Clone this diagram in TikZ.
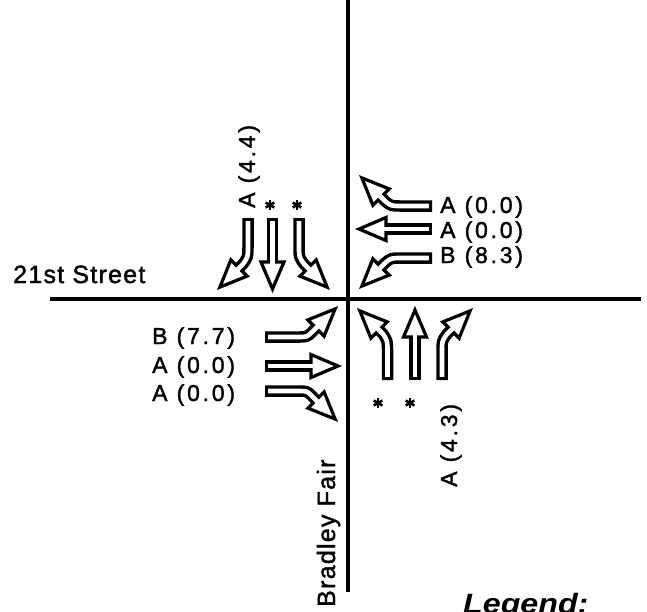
\documentclass[tikz,border=0pt]{standalone}
\usepackage{fontspec}
\setmainfont{Liberation Sans}
\newfontfamily\labfont{Liberation Sans}[LetterSpace=12,FakeBold=1.6]
\newfontfamily\streetfont{Liberation Sans}[LetterSpace=5,FakeBold=1.6]
\newfontfamily\legfont{Liberation Sans}
\usetikzlibrary{calc}
\tikzset{
  road/.style={line width=4pt},
  lab/.style={font=\labfont\fontsize{23}{23}\selectfont, inner sep=0pt},
  street/.style={font=\streetfont\fontsize{25}{25}\selectfont, inner sep=0pt},
  shaftout/.style={line width=11.5pt, line cap=butt},
  shaftin/.style={white, line width=4.6pt, line cap=butt, shorten <=3.2pt, shorten >=-4pt},
  headtri/.style={fill=white, draw=black, line width=3.2pt, line join=miter},
}
\newcommand\harrow[3]{%
  \draw[shaftout] #1;
  \filldraw[headtri] ($(#2)+(#3:27)$) -- ($(#2)+(#3+90:11.5)$) -- ($(#2)+(#3-90:11.5)$) -- cycle;
  \draw[shaftin] #1;
}
\newcommand\astr[1]{%
  \foreach \a in {90,30,150} \draw[line width=2.6pt] ($(#1)+(\a:5)$) -- ($(#1)-(\a:5)$);
}
\begin{document}
\begin{tikzpicture}[x=1pt,y=-1pt]
\useasboundingbox (0,0) rectangle (647,611);
\clip (0,0) rectangle (647,611);
% roads
\coordinate (vtop) at (348,0);
\coordinate (vbot) at (348,592);
\coordinate (hleft) at (50,299);
\coordinate (hright) at (641,299);
\draw[road] (vtop) -- (vbot);
\draw[road] (hleft) -- (hright);
% street names
\node[street, anchor=base west] (st21) at (13,283) {21st Street};
\node[street, anchor=base west, rotate=90] (brad) at (335,607) {Bradley Fair};
% southbound
\harrow{(248,218) -- (248,246) .. controls (248,257) .. (243,264) -- (239,268)}{239,268}{135}
\harrow{(272.5,218) -- (272.5,262)}{272.5,262}{90}
\harrow{(299,218) -- (299,246) .. controls (299,257) .. (304,264) -- (308,268)}{308,268}{45}
\astr{270,205}
\astr{297,205}
\node[lab, anchor=base west, rotate=90] (sbl) at (255,208) {A (4.4)};
% westbound
\harrow{(432,206) -- (402,206) .. controls (391,206) .. (385,201) -- (381,197)}{381,197}{225}
\harrow{(432,229) -- (386,229)}{386,229}{180}
\harrow{(432,258) -- (402,258) .. controls (391,258) .. (385,263) -- (381,267)}{381,267}{135}
\node[lab, anchor=base west] (wb1) at (440,213) {A (0.0)};
\node[lab, anchor=base west] (wb2) at (440,238) {A (0.0)};
\node[lab, anchor=base west] (wb3) at (440,263) {B (8.3)};
% eastbound
\harrow{(265,337) -- (297,337) .. controls (307,337) .. (312,332) -- (316,328)}{316,328}{315}
\harrow{(265,366) -- (311,366)}{311,366}{0}
\harrow{(265,391) -- (297,391) .. controls (307,391) .. (312,396) -- (316,400)}{316,400}{45}
\node[lab, anchor=base west] (eb1) at (152,344) {B (7.7)};
\node[lab, anchor=base west] (eb2) at (152,373) {A (0.0)};
\node[lab, anchor=base west] (eb3) at (152,401) {A (0.0)};
% northbound
\harrow{(387.5,380) -- (387.5,352) .. controls (387.5,341) .. (383,334) -- (379,330)}{379,330}{225}
\harrow{(415,380) -- (415,337)}{415,337}{270}
\harrow{(442,380) -- (442,352) .. controls (442,341) .. (447,334) -- (451,330)}{451,330}{315}
\astr{378,403}
\astr{410,403}
\node[lab, anchor=base west, rotate=90] (nbl) at (457,487) {A (4.3)};
% legend (cut off at the lower edge, as in the reference)
\node[anchor=base west, inner sep=0pt] (legend) at (463,613)
  {\scalebox{1.15}[1]{\legfont\bfseries\itshape\fontsize{28}{28}\selectfont Legend:}};
\end{tikzpicture}
\end{document}
